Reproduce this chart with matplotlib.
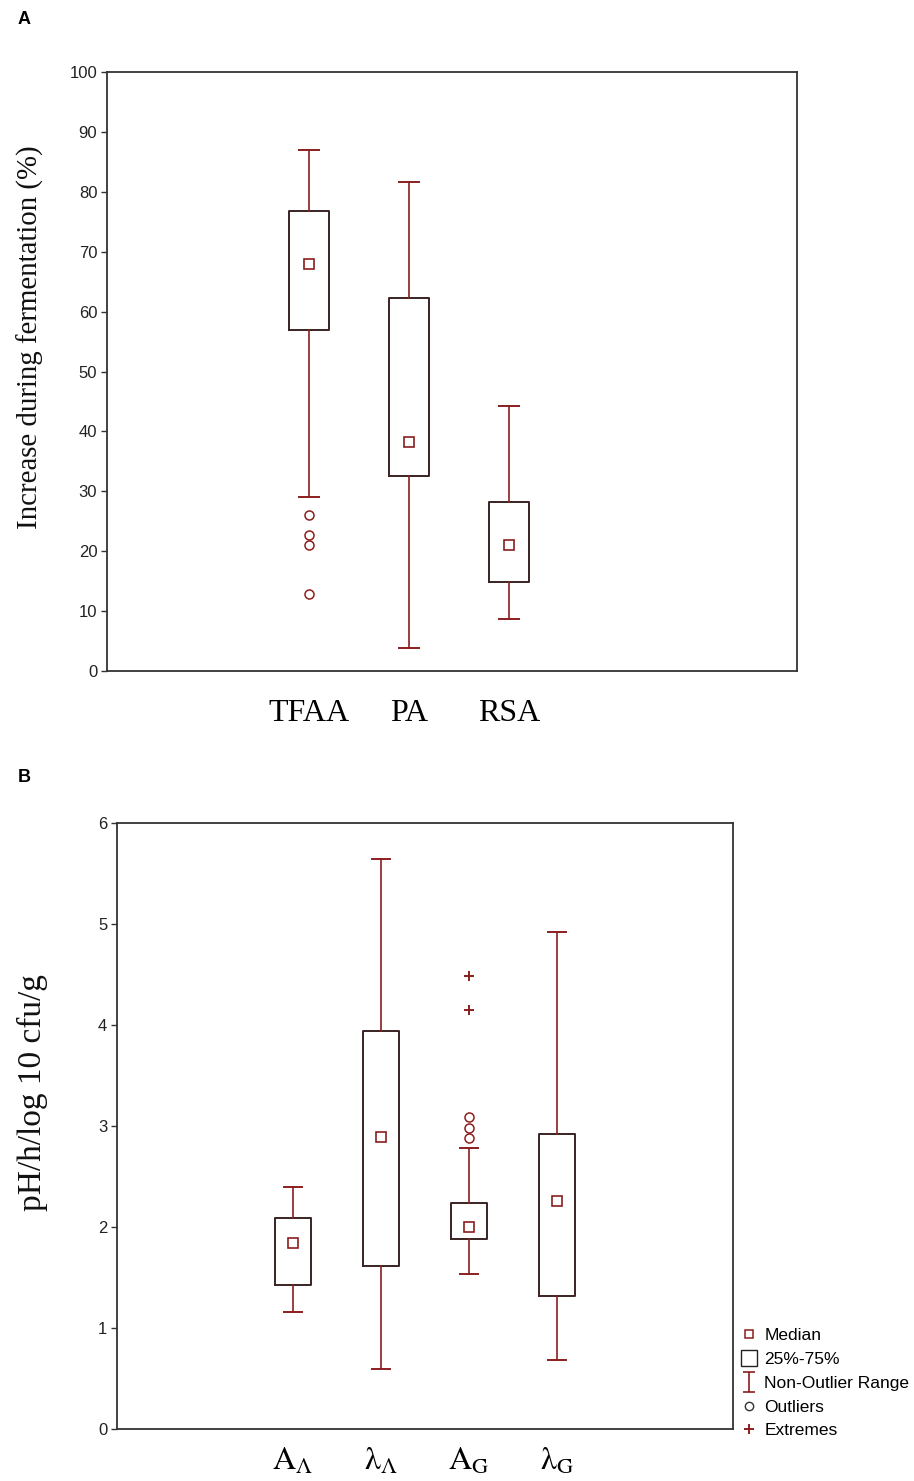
import matplotlib
matplotlib.use("Agg")
import matplotlib.pyplot as plt
from matplotlib.lines import Line2D
from matplotlib.path import Path

# ---------------- data ----------------
a_labels = ["TFAA", "PA", "RSA"]
a_whislo = [29.0, 3.9, 8.7]
a_q1 = [56.9, 32.6, 14.8]
a_med = [68.0, 38.3, 21.0]
a_q3 = [76.8, 62.2, 28.2]
a_whishi = [87.0, 81.6, 44.2]
a_outliers = [[26.0, 22.7, 21.0, 12.9], [], []]
a_extremes = [[], [], []]

b_labels = [r"$\mathrm{A}_{\Lambda}$", r"$\mathrm{λ}_{\Lambda}$",
            r"$\mathrm{A}_{\mathrm{G}}$", r"$\mathrm{λ}_{\mathrm{G}}$"]
b_whislo = [1.16, 0.59, 1.53, 0.68]
b_q1 = [1.43, 1.61, 1.88, 1.32]
b_med = [1.84, 2.89, 2.00, 2.26]
b_q3 = [2.09, 3.94, 2.24, 2.92]
b_whishi = [2.40, 5.64, 2.78, 4.92]
b_outliers = [[], [], [3.09, 2.98, 2.88], []]
b_extremes = [[], [], [4.49, 4.15], []]

a_yticks = [0, 10, 20, 30, 40, 50, 60, 70, 80, 90, 100]
b_yticks = [0, 1, 2, 3, 4, 5, 6]

# ---------------- style ----------------
RED = "#8b1e1e"
BOXC = "#3a2222"
SPINE = "#333333"
plt.rcParams["mathtext.fontset"] = "stix"

fig = plt.figure(figsize=(9.14, 14.81), dpi=100)

axA = fig.add_axes([107 / 914, 1 - 671 / 1481, 690 / 914, 599 / 1481])
axB = fig.add_axes([117 / 914, 1 - 1429 / 1481, 616 / 914, 606 / 1481])


def draw(ax, labels, whislo, q1, med, q3, whishi, outl, extr):
    stats = []
    for i in range(len(labels)):
        stats.append(dict(med=med[i], mean=med[i], q1=q1[i], q3=q3[i],
                          whislo=whislo[i], whishi=whishi[i],
                          fliers=outl[i], label=labels[i]))
    pos = list(range(1, len(labels) + 1))
    ax.bxp(stats, positions=pos, widths=0.4, capwidths=0.2,
           showmeans=True, showfliers=True,
           boxprops=dict(color=BOXC, linewidth=1.4),
           whiskerprops=dict(color=RED, linewidth=1.2),
           capprops=dict(color=RED, linewidth=1.4),
           medianprops=dict(linestyle="none", linewidth=0),
           meanprops=dict(marker="s", markersize=6.5, markerfacecolor="white",
                          markeredgecolor=RED, markeredgewidth=1.2),
           flierprops=dict(marker="o", markersize=6.5, markerfacecolor="none",
                           markeredgecolor=RED, markeredgewidth=1.1))
    for p, ys in zip(pos, extr):
        if ys:
            ax.plot([p] * len(ys), ys, linestyle="none", marker="+",
                    markersize=7, markeredgewidth=1.4, color=RED)
    for s in ax.spines.values():
        s.set_color(SPINE)
        s.set_linewidth(1.3)
    ax.tick_params(axis="y", direction="out", length=4, width=1, colors=SPINE,
                   labelcolor="#222222", labelsize=12, pad=3)
    ax.tick_params(axis="x", length=0, labelsize=23)


draw(axA, a_labels, a_whislo, a_q1, a_med, a_q3, a_whishi, a_outliers, a_extremes)
axA.set_xlim(-1.02, 5.88)
axA.set_ylim(0, 100)
axA.set_yticks(a_yticks)
for t in axA.get_yticklabels():
    t.set_fontfamily("Liberation Sans")
axA.tick_params(axis="x", pad=20)
for t in axA.get_xticklabels():
    t.set_fontfamily("Liberation Serif")

draw(axB, b_labels, b_whislo, b_q1, b_med, b_q3, b_whishi, b_outliers, b_extremes)
axB.set_xlim(-1, 6)
axB.set_ylim(0, 6)
axB.set_yticks(b_yticks)
for t in axB.get_yticklabels():
    t.set_fontfamily("Liberation Sans")
axB.tick_params(axis="x", pad=12)

# y labels
fig.text(30 / 914, 1 - 337 / 1481, "Increase during fermentation (%)",
         rotation=90, ha="center", va="center", fontsize=20.8,
         family="Liberation Serif", color="#111111")
fig.text(32 / 914, 1 - 1093 / 1481, "pH/h/log 10 cfu/g",
         rotation=90, ha="center", va="center", fontsize=24,
         family="Liberation Serif", color="#111111")

# panel letters
fig.text(18 / 914, 1 - 20 / 1481, "A", fontsize=13, fontweight="bold",
         family="Liberation Sans", ha="left", va="center")
fig.text(18 / 914, 1 - 778 / 1481, "B", fontsize=13, fontweight="bold",
         family="Liberation Sans", ha="left", va="center")

# legend
i_path = Path([(-0.6, 1), (0.6, 1), (0, 1), (0, -1), (-0.6, -1), (0.6, -1)],
              [Path.MOVETO, Path.LINETO, Path.MOVETO, Path.LINETO,
               Path.MOVETO, Path.LINETO])
handles = [
    Line2D([], [], linestyle="none", marker="s", markersize=6,
           markerfacecolor="white", markeredgecolor=RED, markeredgewidth=1.1),
    Line2D([], [], linestyle="none", marker="s", markersize=11,
           markerfacecolor="white", markeredgecolor="#222222", markeredgewidth=1.0),
    Line2D([], [], linestyle="none", marker=i_path, markersize=14,
           markerfacecolor="none", markeredgecolor=RED, markeredgewidth=1.2),
    Line2D([], [], linestyle="none", marker="o", markersize=6,
           markerfacecolor="none", markeredgecolor="#333333", markeredgewidth=1.0),
    Line2D([], [], linestyle="none", marker="+", markersize=7,
           markeredgecolor=RED, markeredgewidth=1.4),
]
leg_labels = ["Median", "25%-75%", "Non-Outlier Range", "Outliers", "Extremes"]
fig.legend(handles, leg_labels, loc="upper left",
           bbox_to_anchor=(741 / 914, 1 - 1328 / 1481),
           frameon=False, handlelength=0.95, handletextpad=0.4,
           labelspacing=0.5, borderpad=0, borderaxespad=0,
           prop=dict(family="Liberation Sans", size=12.5))

fig.savefig("out.png", dpi=100)
